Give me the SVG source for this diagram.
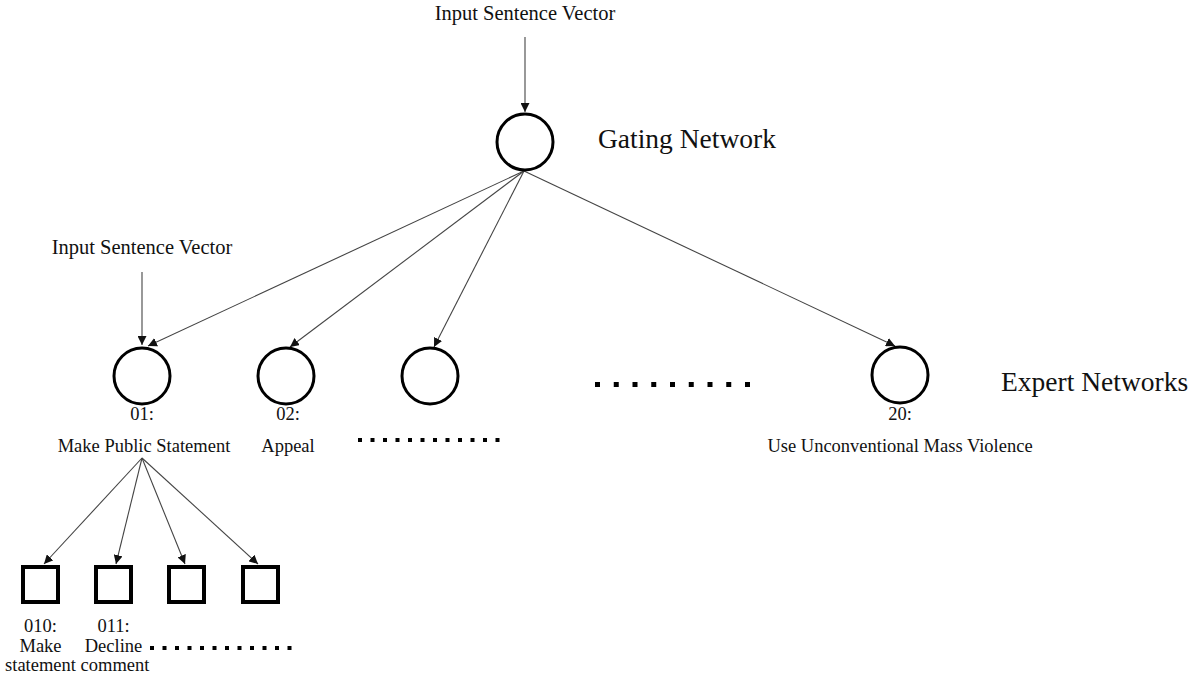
<svg xmlns="http://www.w3.org/2000/svg" width="1192" height="674" viewBox="0 0 1192 674">
<style>
text{font-family:"Liberation Serif","Times New Roman",serif;fill:#111;text-anchor:middle}
.lbl{font-size:18.5px}
.inp{font-size:20.5px}
.big{font-size:27.5px;text-anchor:start}
.node{fill:#fff;stroke:#000;stroke-width:3}
.sq{fill:#fff;stroke:#000;stroke-width:4}
.edge{stroke:#444;stroke-width:1.1;fill:none;marker-end:url(#ah)}
.dot{fill:#000}
</style>
<defs>
<marker id="ah" markerUnits="userSpaceOnUse" markerWidth="9" markerHeight="9" viewBox="0 0 10 10" refX="10" refY="5" orient="auto">
<path d="M0,0 L10,5 L0,10 z" fill="#111"/>
</marker>
</defs>
<g id="connectors">
<line class="edge" x1="525" y1="37" x2="525" y2="112"/>
<line class="edge" x1="142" y1="272" x2="142" y2="345"/>
<line class="edge" x1="524" y1="171" x2="148" y2="346"/>
<line class="edge" x1="524" y1="171" x2="290" y2="347"/>
<line class="edge" x1="524" y1="171" x2="434" y2="347"/>
<line class="edge" x1="524" y1="171" x2="895" y2="346"/>
<line class="edge" x1="142" y1="458" x2="44" y2="564"/>
<line class="edge" x1="142" y1="458" x2="116" y2="564"/>
<line class="edge" x1="142" y1="458" x2="185" y2="564"/>
<line class="edge" x1="142" y1="458" x2="258" y2="564"/>
</g>
<g id="input-top"><text class="inp" x="525" y="20">Input Sentence Vector</text></g>
<g id="gating">
<circle class="node" cx="525" cy="142" r="28"/>
<text class="big" x="598" y="148">Gating Network</text>
</g>
<g id="input-left"><text class="inp" x="142" y="254">Input Sentence Vector</text></g>
<g id="expert01">
<circle class="node" cx="142" cy="376" r="28"/>
<text class="lbl" x="142" y="420">01:</text>
<text class="lbl" x="144" y="452">Make Public Statement</text>
</g>
<g id="expert02">
<circle class="node" cx="286" cy="376" r="28"/>
<text class="lbl" x="288" y="420">02:</text>
<text class="lbl" x="288" y="452">Appeal</text>
</g>
<g id="expert03">
<circle class="node" cx="430" cy="376" r="28"/>
</g>
<g id="expert20">
<circle class="node" cx="900" cy="375" r="28"/>
<text class="lbl" x="900" y="420">20:</text>
<text class="lbl" x="900" y="452">Use Unconventional Mass Violence</text>
</g>
<g id="expert-label"><text class="big" x="1001" y="391">Expert Networks</text></g>
<g id="dots-top">
<rect class="dot" x="595" y="382" width="5" height="5"/>
<rect class="dot" x="613.75" y="382" width="5" height="5"/>
<rect class="dot" x="632.5" y="382" width="5" height="5"/>
<rect class="dot" x="651.25" y="382" width="5" height="5"/>
<rect class="dot" x="670" y="382" width="5" height="5"/>
<rect class="dot" x="688.75" y="382" width="5" height="5"/>
<rect class="dot" x="707.5" y="382" width="5" height="5"/>
<rect class="dot" x="726.25" y="382" width="5" height="5"/>
<rect class="dot" x="745" y="382" width="5" height="5"/>
</g>
<g id="dots-mid">
<rect class="dot" x="358" y="438" width="4" height="4"/>
<rect class="dot" x="370.5" y="438" width="4" height="4"/>
<rect class="dot" x="383" y="438" width="4" height="4"/>
<rect class="dot" x="395.5" y="438" width="4" height="4"/>
<rect class="dot" x="408" y="438" width="4" height="4"/>
<rect class="dot" x="420.5" y="438" width="4" height="4"/>
<rect class="dot" x="433" y="438" width="4" height="4"/>
<rect class="dot" x="445.5" y="438" width="4" height="4"/>
<rect class="dot" x="458" y="438" width="4" height="4"/>
<rect class="dot" x="470.5" y="438" width="4" height="4"/>
<rect class="dot" x="483" y="438" width="4" height="4"/>
<rect class="dot" x="495.5" y="438" width="4" height="4"/>
</g>
<g id="sub010">
<rect class="sq" x="23" y="567" width="35" height="35"/>
<text class="lbl" x="40.5" y="632">010:</text>
<text class="lbl" x="40.5" y="652">Make</text>
<text class="lbl" x="40.5" y="671">statement</text>
</g>
<g id="sub011">
<rect class="sq" x="96" y="567" width="35" height="35"/>
<text class="lbl" x="113.5" y="632">011:</text>
<text class="lbl" x="113.5" y="652">Decline</text>
<text class="lbl" x="115" y="671">comment</text>
</g>
<g id="sub3"><rect class="sq" x="169" y="567" width="35" height="35"/></g>
<g id="sub4"><rect class="sq" x="243" y="567" width="35" height="35"/></g>
<g id="dots-bottom">
<rect class="dot" x="150" y="646" width="4" height="4"/>
<rect class="dot" x="162.5" y="646" width="4" height="4"/>
<rect class="dot" x="175" y="646" width="4" height="4"/>
<rect class="dot" x="187.5" y="646" width="4" height="4"/>
<rect class="dot" x="200" y="646" width="4" height="4"/>
<rect class="dot" x="212.5" y="646" width="4" height="4"/>
<rect class="dot" x="225" y="646" width="4" height="4"/>
<rect class="dot" x="237.5" y="646" width="4" height="4"/>
<rect class="dot" x="250" y="646" width="4" height="4"/>
<rect class="dot" x="262.5" y="646" width="4" height="4"/>
<rect class="dot" x="275" y="646" width="4" height="4"/>
<rect class="dot" x="287.5" y="646" width="4" height="4"/>
</g>
</svg>
